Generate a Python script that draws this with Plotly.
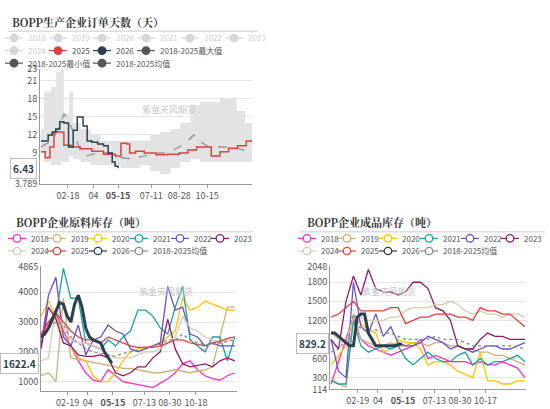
import plotly.graph_objects as go

# ---------- top chart: order days ----------
band_days = [3,8,20,28,37,42,51,58,71,88,105,122,139,156,173,190,207,225,242,259,276,293,310,327,339,353,365]
band_max = [12.9,19.3,20,22.5,23,15.5,19.2,14,13,12,11,11,11,11,11,12,12.5,13,14,17,17.5,17.5,18,18,16,14,14]
band_min = [9,7.5,7,7,7.5,7.5,8.5,8,7.5,7,7,7,6.5,6.5,7,6,5.5,6.5,7.5,8,7.5,7.5,7.5,7.5,7.5,7.5,7.5]
avg_days = [3,20,30,42,50,60,70,80,100,120,140,160,180,200,220,240,255,265,275,290,310,330,350,365]
avg_vals = [10,11,12.5,15.5,14.5,12,9.5,8.5,9,9,8.2,8,8.5,9,9,10,11,12,11,10,10,10,9.5,9.5]
y25_days = [3,10,18,25,35,42,55,70,90,110,130,140,150,155,165,180,200,220,240,255,270,290,295,310,325,340,355,365]
y25_vals = [9.2,8.2,10,12.5,12.5,10.3,10,9.7,9.3,8.8,8.5,10.6,10.5,9,9.3,9,8.7,8.8,9,9.5,10,10,8.5,9.2,9.8,10.2,11,11.2]
y26_days = [3,10,15,22,28,35,42,50,58,65,70,75,82,90,100,110,118,125,130,135]
y26_vals = [11,11,12,12.5,13,14.2,14,10,12.8,15,15,13.5,11,10.8,10.5,10.2,9,7.5,6.8,6.43]

# ---------- bottom charts ----------
bdays = list(range(0, 365, 14))  # 27 biweekly points
d26 = list(range(0, 134, 7))     # 20 weekly points
years = ["2018","2019","2020","2021","2022","2023","2024","2025"]
colors = {"2018":"#ff2bc2","2019":"#c8b27a","2020":"#ffc000","2021":"#17a2a6","2022":"#6a4fc7",
          "2023":"#8b1a6b","2024":"#d9cbb0","2025":"#d9443f","2026":"#2c3e50","avg":"#8c8c8c"}

raw = {
 "2018":[2500,3000,3300,2700,2200,1700,1300,1050,1000,1400,1200,1000,950,900,850,800,950,1100,1300,1600,1700,1400,1200,1100,1050,1200,1300],
 "2019":[1200,1300,1000,3800,1800,1750,1700,1650,1600,1550,1500,1450,1450,1400,1350,1300,1300,1350,1400,1350,1300,1350,1400,1500,2500,3500,3500],
 "2020":[3200,3700,3200,2500,2200,1800,1700,1200,1000,1000,1300,1700,2000,2100,2150,2200,2300,2500,2700,3800,3400,3500,3700,3600,3500,3400,3400],
 "2021":[2500,2800,3200,4800,3800,3800,2300,2200,2100,2400,2200,2500,2700,3400,3400,3200,2800,2600,3500,4200,2400,2200,2000,2500,2500,1700,2500],
 "2022":[2200,3900,4500,2500,2200,2900,1900,2400,2500,2900,2700,2600,2100,2000,2100,2200,2300,4200,3400,3500,2600,2500,2200,2300,2200,2200,2200],
 "2023":[2100,3500,3100,2300,2200,1900,1850,1850,1900,1800,1300,1200,1300,1500,1500,1800,2000,3100,2100,1600,1500,1550,1600,1500,1700,1800,1700],
 "2024":[1700,1800,3500,2800,2400,2300,2300,2200,2100,1900,1800,1800,1800,1900,2000,2000,2100,2300,2500,3200,2800,2700,2500,2400,2300,2400,2400],
 "2025":[2600,3000,3300,3000,2700,2500,2400,2400,2300,2500,2400,2300,2200,2150,2150,2150,2200,2300,2400,2400,2300,2250,2200,2300,2350,2450,2500],
}
raw_avg = [2500,2800,3000,2900,2500,2300,2100,2000,1950,1900,1850,1950,2000,2050,2100,2200,2250,2400,2400,2600,2400,2300,2250,2250,2300,2350,2400]
raw_26 = [2500,2600,2800,3100,3400,3650,3600,3200,3000,3600,3900,3500,2800,2500,2400,2350,2300,2000,1800,1622.4]

fin = {
 "2018":[200,550,900,1250,900,800,750,700,650,700,750,800,900,600,650,600,550,550,550,500,550,500,500,550,500,450,300],
 "2019":[300,200,150,1300,900,850,800,800,850,800,800,850,850,800,850,850,800,800,750,750,700,700,650,650,600,550,500],
 "2020":[500,650,800,1250,1150,1050,1000,700,750,900,850,850,750,500,550,550,500,400,350,300,700,250,250,200,200,250,250],
 "2021":[250,200,200,1200,800,700,750,800,750,800,600,500,600,700,600,550,550,650,700,500,600,500,550,550,600,650,550],
 "2022":[900,400,300,1800,1100,1000,1300,950,1100,850,800,800,850,950,900,850,750,800,750,700,750,800,800,750,750,800,850],
 "2023":[900,750,1500,1900,1600,2000,1700,1650,1650,1600,1650,1800,1800,1700,1400,1350,1200,800,750,750,900,1000,950,950,900,900,900],
 "2024":[1000,900,850,1250,1250,1200,1200,1200,1250,1250,1350,1400,1400,1400,1450,1450,1500,1450,1350,1300,1350,1300,1300,1250,1300,1300,1250],
 "2025":[1250,1300,1400,1500,1350,1350,1350,1350,1400,1400,1150,1200,1250,1250,1300,1300,1300,1250,1250,1200,1400,1350,1350,1300,1300,1200,1100],
}
fin_avg = [700,750,900,1300,1050,1050,1050,1000,1000,950,900,900,900,900,950,900,900,900,850,800,800,800,800,800,800,780,750]
fin_26 = [1000,1000,950,900,850,800,800,1250,1300,1300,1000,900,800,800,800,800,800,800,820,829.2]

top_ticks = [49,93,135,192,240,288]
top_ticktext = ["02-18","04","<b>05-15</b>","07-11","08-28","10-15"]
bl_ticks = [50,88,135,194,242,291]
bl_ticktext = ["02-19","04","<b>05-15</b>","07-13","08-30","10-18"]
br_ticks = [50,88,135,194,242,290]
br_ticktext = ["02-19","04","<b>05-15</b>","07-13","08-30","10-17"]

W, H = 550, 409
def px(x): return x / W
def py(y): return 1 - y / H

fig = go.Figure()
# top chart
fig.add_trace(go.Scatter(x=band_days, y=band_min, mode="lines", line=dict(width=0, shape="hv"),
                         showlegend=False, hoverinfo="skip", xaxis="x", yaxis="y"))
fig.add_trace(go.Scatter(x=band_days, y=band_max, mode="lines", line=dict(width=0, shape="hv"),
                         fill="tonexty", fillcolor="#e3e3e3", showlegend=False, xaxis="x", yaxis="y"))
fig.add_trace(go.Scatter(x=avg_days, y=avg_vals, mode="lines", line=dict(color="#999", width=1.5, dash="dash"),
                         showlegend=False, xaxis="x", yaxis="y"))
fig.add_trace(go.Scatter(x=y25_days, y=y25_vals, mode="lines", line=dict(color=colors["2025"], width=1.5, shape="hv"),
                         showlegend=False, xaxis="x", yaxis="y"))
fig.add_trace(go.Scatter(x=y26_days, y=y26_vals, mode="lines", line=dict(color=colors["2026"], width=1.5, shape="hv"),
                         showlegend=False, xaxis="x", yaxis="y"))

def add_panel(data, avgv, v26, xa, ya):
    for yname in years:
        fig.add_trace(go.Scatter(x=bdays, y=data[yname], mode="lines", line=dict(color=colors[yname], width=1.3),
                                 showlegend=False, xaxis=xa, yaxis=ya))
    fig.add_trace(go.Scatter(x=bdays, y=avgv, mode="lines", line=dict(color="#888", width=1.3, dash="dot"),
                             showlegend=False, xaxis=xa, yaxis=ya))
    fig.add_trace(go.Scatter(x=d26, y=v26, mode="lines", line=dict(color=colors["2026"], width=3),
                             showlegend=False, xaxis=xa, yaxis=ya))

add_panel(raw, raw_avg, raw_26, "x2", "y2")
add_panel(fin, fin_avg, fin_26, "x3", "y3")

# ---------- manual legends ----------
def legend_item(name, color, tx, ty, filled=True, textcolor="#555"):
    fig.add_shape(type="line", x0=px(tx - 22), x1=px(tx - 4), y0=py(ty), y1=py(ty), xref="paper", yref="paper",
                  line=dict(color=color, width=1.2))
    r = 3.8
    fig.add_shape(type="circle", x0=px(tx - 13 - r), x1=px(tx - 13 + r), y0=py(ty + r), y1=py(ty - r),
                  xref="paper", yref="paper", line=dict(color=color, width=1.3),
                  fillcolor=color if filled else "white")
    fig.add_annotation(text=name, x=px(tx - 1), y=py(ty), xref="paper", yref="paper", xanchor="left",
                       yanchor="middle", showarrow=False, font=dict(size=8, color=textcolor))

grey_items = ["2018","2019","2020","2021","2022","2023"]
for n, tx in zip(grey_items, [27, 71, 115, 159, 203, 247]):
    legend_item(n, "#d6d6d6", tx, 32, textcolor="#cfcfcf")
legend_item("2024", "#d6d6d6", 27, 45, textcolor="#cfcfcf")
legend_item("2025", colors["2025"], 71, 45)
legend_item("2026", colors["2026"], 115, 45)
legend_item("2018-2025最大值", "#555", 159, 45)
legend_item("2018-2025最小值", "#555", 27, 58)
legend_item("2018-2025均值", "#555", 115, 58)

for x0 in (0, 290):
    for n, tx in zip(years[:6], [30, 70, 111, 152, 193, 233]):
        legend_item(n, colors[n], tx + x0, 239, filled=False)
    for n, tx in zip(["2024", "2025", "2026"], [30, 70, 111]):
        legend_item(n, colors[n], tx + x0, 252, filled=False)
    legend_item("2018-2025均值", "#8c8c8c", 152 + x0, 252, filled=False)

ax = dict(showgrid=False, showline=True, linecolor="#999", ticks="outside", ticklen=3, tickcolor="#999",
          tickfont=dict(size=9, color="#555"), zeroline=False, fixedrange=True, tickangle=0)
ay = dict(showgrid=True, gridcolor="#e6e6e6", showline=True, linecolor="#999", ticks="",
          tickfont=dict(size=9, color="#555"), zeroline=False)

fig.update_layout(
    width=W, height=H, margin=dict(l=0, r=0, t=0, b=0), showlegend=False,
    paper_bgcolor="white", plot_bgcolor="white",
    font=dict(family="Noto Sans CJK SC", color="#444"),
    xaxis=dict(ax, domain=[px(40), px(252)], range=[1, 365], tickvals=top_ticks, ticktext=top_ticktext, anchor="y"),
    yaxis=dict(ay, domain=[py(183), py(64)], range=[3.789, 23], tickvals=[3.789,9,12,15,18,21,23],
               ticktext=["3.789","9","12","15","18","21","23"], anchor="x"),
    xaxis2=dict(ax, domain=[px(41), px(237)], range=[0, 368], tickvals=bl_ticks, ticktext=bl_ticktext, anchor="y2"),
    yaxis2=dict(ay, domain=[py(397), py(268)], range=[675, 4865], tickvals=[1000,2000,3000,4000,4865], anchor="x2"),
    xaxis3=dict(ax, domain=[px(330), px(526)], range=[-2, 366], tickvals=br_ticks, ticktext=br_ticktext, anchor="y3"),
    yaxis3=dict(ay, domain=[py(395), py(268)], range=[114, 2048], tickvals=[114,300,600,1200,1500,1800,2048], anchor="x3"),
)

title_font = dict(size=11, color="#333", family="Noto Serif CJK SC, Noto Sans CJK SC")
for t, x, y in [("<b>BOPP生产企业订单天数（天）</b>", 10, 15),
                ("<b>BOPP企业原料库存（吨）</b>", 14, 222),
                ("<b>BOPP企业成品库存（吨）</b>", 305, 222)]:
    fig.add_annotation(text=t, x=px(x), y=py(y), xref="paper", yref="paper", xanchor="left", yanchor="middle",
                       showarrow=False, font=title_font)
for x0, x1, y in [(8, 258, 25), (12, 253, 232), (300, 545, 232)]:
    fig.add_shape(type="line", x0=px(x0), x1=px(x1), y0=py(y), y1=py(y), xref="paper", yref="paper",
                  line=dict(color="#ddd", width=1.5))
for x, y in [(140, 97), (137, 303), (418, 303)]:
    fig.add_annotation(text="紫金天风期货", x=px(x), y=py(y), xref="paper", yref="paper", showarrow=False,
                       font=dict(size=9, color="#c8c8c8"))
for txt, yv, yr, xr in [("6.43", y26_vals[-1], "y", 37), ("1622.4", raw_26[-1], "y2", 39), ("829.2", fin_26[-1], "y3", 329)]:
    fig.add_annotation(text=f"<b>{txt}</b>", x=px(xr), y=yv, xref="paper", yref=yr, xanchor="right",
                       showarrow=False, bgcolor="white", bordercolor="#bbb", borderwidth=1, borderpad=2,
                       font=dict(size=10, color="#2c3e50"))

fig.write_html("out.html", config={"displayModeBar": False},
               post_script="document.body.style.margin='0';document.body.style.padding='0';")
